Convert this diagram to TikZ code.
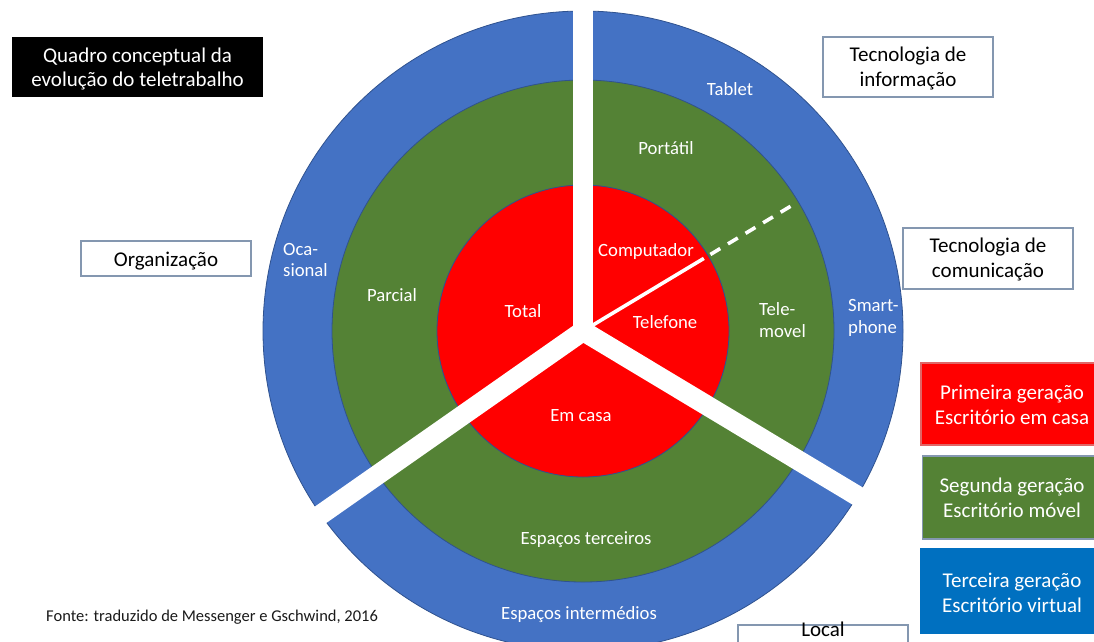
\documentclass[tikz,border=0pt]{standalone}
\usepackage{fontspec}
\setmainfont{Carlito}
\usetikzlibrary{calc}
\definecolor{ringblue}{HTML}{4472C4}
\definecolor{ringgreen}{HTML}{548235}
\definecolor{ringred}{HTML}{FF0000}
\definecolor{edgeblue}{HTML}{2F528F}
\definecolor{legblue}{HTML}{0070C0}
\definecolor{boxedge}{HTML}{8497B0}
\definecolor{txtdark}{HTML}{1A1A1A}
\begin{document}
\begin{tikzpicture}[x=1pt,y=-1pt,
  ring/.style={draw=edgeblue, line width=0.8pt},
  band/.style={draw=white, line width=20pt},
  thinline/.style={draw=white, line width=3.6pt},
  lbl/.style={font=\fontsize{18.7}{22}\selectfont, text=white, inner sep=0pt, anchor=base},
  lblw/.style={lbl, anchor=base west},
  boxtxt/.style={font=\fontsize{21}{25}\selectfont, inner sep=0pt, anchor=base},
  framebox/.style={draw=boxedge, line width=1.2pt, fill=white},
  legbox/.style={line width=1.2pt}
]
\useasboundingbox (0,0) rectangle (1094,641);
\coordinate (c) at (583,331);

% rings
\path[ring, fill=ringblue] (c) circle[radius=320pt];
\path[ring, fill=ringgreen] (c) circle[radius=251pt];
\path[ring, fill=ringred] (c) circle[radius=146pt];

% thin solid and dashed line
\coordinate (t0) at ($(c)+(-31:141)$);
\coordinate (t1) at ($(c)+(-31:148.6)$);
\coordinate (t2) at ($(c)+(-31:243)$);
\draw[thinline] (c) -- (t0);
\draw[thinline, dash pattern=on 11.5pt off 9pt] (t1) -- (t2);

% wide white bands
\coordinate (bup) at ($(c)+(-90:345)$);
\coordinate (bll) at ($(c)+(145:322)$);
\coordinate (blr) at ($(c)+(31:322)$);
\draw[band] (c) -- (bup);
\draw[band] (c) -- (bll);
\draw[band] (c) -- (blr);

% ring labels
\node[lbl] (tablet) at (730,95) {Tablet};
\node[lbl] (portatil) at (666,154) {Portátil};
\node[lbl] (comp) at (646,256) {Computador};
\node[lbl] (tel) at (665,328) {Telefone};
\node[lbl] (total) at (523,317) {Total};
\node[lbl] (emcasa) at (581,421) {Em casa};
\node[lbl] (parcial) at (392,301) {Parcial};
\node[lblw] (oca) at (283,255) {Oca-};
\node[lblw] (sional) at (283,276) {sional};
\node[lblw] (tele) at (759,315) {Tele-};
\node[lblw] (movel) at (759,337) {movel};
\node[lblw] (smart) at (848,311) {Smart-};
\node[lblw] (phone) at (848,333) {phone};
\node[lbl] (esp3) at (586,544) {Espaços terceiros};
\node[lbl] (espi) at (579,619) {Espaços intermédios};

% title box
\fill[black] (12,37) rectangle (263,97);
\node[boxtxt, text=white] (title1) at (137.5,62) {Quadro conceptual da};
\node[boxtxt, text=white] (title2) at (137.5,86) {evolução do teletrabalho};

% framed boxes
\path[framebox] (81,241) rectangle (251,276);
\node[boxtxt, text=black] (org) at (166,266) {Organização};

\path[framebox] (823,37) rectangle (993,97);
\node[boxtxt, text=black] (ti1) at (908,61) {Tecnologia de};
\node[boxtxt, text=black] (ti2) at (908,86) {informação};

\path[framebox] (903,228) rectangle (1073,289);
\node[boxtxt, text=black] (tc1) at (988,252) {Tecnologia de};
\node[boxtxt, text=black] (tc2) at (988,277) {comunicação};

\path[framebox] (738,625) rectangle (908,665);
\node[boxtxt, text=black] (local) at (823,636) {Local};

% legend
\path[legbox, fill=ringred, draw=ringred!80!black!60] (921,363) rectangle (1104,445);
\node[boxtxt, text=white] (l1a) at (1012,399) {Primeira geração};
\node[boxtxt, text=white] (l1b) at (1012,424) {Escritório em casa};

\path[legbox, fill=ringgreen, draw=boxedge] (922.5,456) rectangle (1104,539);
\node[boxtxt, text=white] (l2a) at (1012,492) {Segunda geração};
\node[boxtxt, text=white] (l2b) at (1012,517) {Escritório móvel};

\path[legbox, fill=legblue, draw=legblue] (921,549) rectangle (1104,633);
\node[boxtxt, text=white] (l3a) at (1012,587) {Terceira geração};
\node[boxtxt, text=white] (l3b) at (1012,612) {Escritório virtual};

% source
\node[anchor=base west, inner sep=0pt, font=\fontsize{16.5}{19}\selectfont, text=txtdark] (fonte) at (46,621) {Fonte: traduzido de Messenger e Gschwind, 2016};
\end{tikzpicture}
\end{document}
